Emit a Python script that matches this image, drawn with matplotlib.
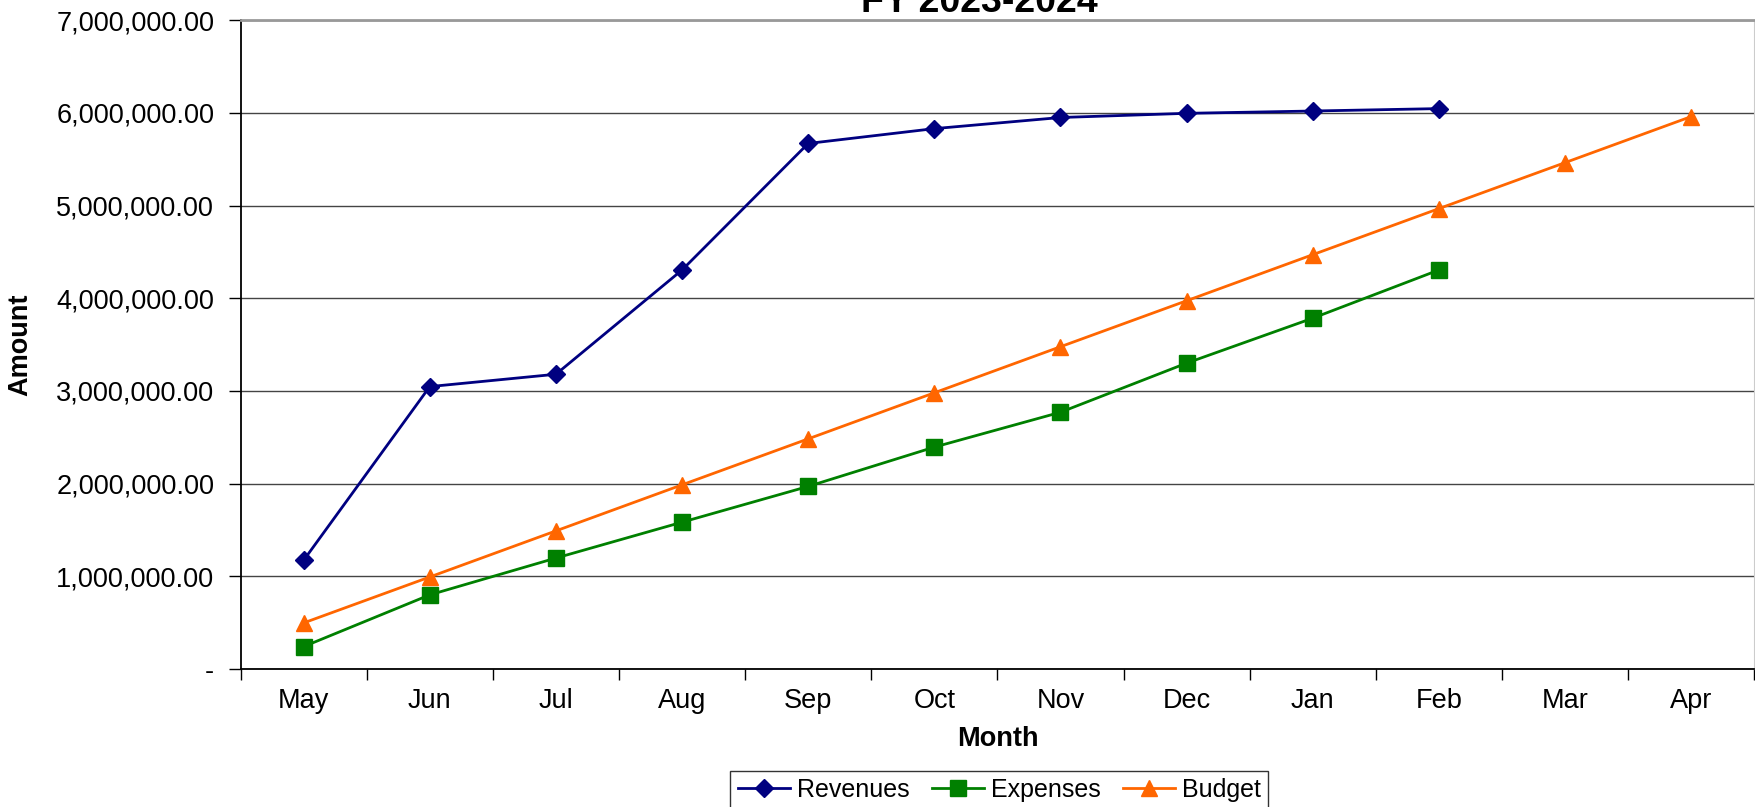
import matplotlib as mpl
mpl.use('Agg')
import matplotlib.pyplot as plt
import numpy as np
from matplotlib.ticker import FuncFormatter, FixedLocator

plt.rcParams['font.family'] = ['Liberation Sans', 'DejaVu Sans']

months = ['May', 'Jun', 'Jul', 'Aug', 'Sep', 'Oct', 'Nov', 'Dec', 'Jan', 'Feb', 'Mar', 'Apr']
revenues = [1173000, 3047000, 3180000, 4305000, 5670000, 5830000, 5950000, 5995000, 6020000, 6046000]
expenses = [242000, 800000, 1197000, 1584000, 1970000, 2394000, 2770000, 3300000, 3785000, 4305000]
budget = [497000, 993000, 1490000, 1987000, 2483000, 2980000, 3477000, 3973000, 4470000, 4967000, 5463000, 5960000]

fig = plt.figure(figsize=(17.56, 8.07), dpi=100)
ax = fig.add_axes([0.137, 0.171, 0.862, 0.804])

x = np.arange(len(months))
ax.plot(x[:len(revenues)], revenues, color='#000080', lw=2, marker='D', ms=9, label='Revenues')
ax.plot(x[:len(expenses)], expenses, color='#008000', lw=2, marker='s', ms=11, label='Expenses')
ax.plot(x[:len(budget)], budget, color='#FF6600', lw=2, marker='^', ms=11, label='Budget')

ax.set_xlim(-0.5, len(months) - 0.5)
ax.set_ylim(0, 7000000)
ax.set_yticks(np.arange(0, 7000001, 1000000))
ax.yaxis.set_major_formatter(FuncFormatter(lambda v, p: '-' if v == 0 else f'{v:,.2f}'))
ax.set_xticks(x)
ax.set_xticklabels(months)
ax.xaxis.set_minor_locator(FixedLocator(np.arange(-0.5, len(months), 1)))
ax.tick_params(axis='x', which='major', length=0, labelsize=19.5, pad=14)
ax.tick_params(axis='x', which='minor', length=8, width=1)
ax.tick_params(axis='y', length=9, width=1, labelsize=19.5, pad=10)

ax.grid(axis='y', color='#444444', lw=1)
ax.set_axisbelow(True)
ax.spines['top'].set_color('#999999')
ax.spines['top'].set_linewidth(2)
ax.spines['right'].set_color('#cccccc')
ax.spines['left'].set_linewidth(1.3)
ax.spines['bottom'].set_linewidth(1.3)

ax.set_xlabel('Month', fontsize=19.5, fontweight='bold', labelpad=8)
ax.set_ylabel('Amount', fontsize=19.5, fontweight='bold')
ax.yaxis.set_label_coords(-0.137, 0.5)
ax.set_title('FY 2023-2024', fontsize=27, fontweight='bold', x=0.488, pad=4)

leg = fig.legend(loc='upper center', bbox_to_anchor=(0.569, 0.045), ncol=3, fontsize=18,
                 frameon=True, fancybox=False, edgecolor='black', handlelength=2.1,
                 columnspacing=0.9, handletextpad=0.25, borderpad=0.3, borderaxespad=0)
leg.get_frame().set_linewidth(1)

fig.savefig('out.png', dpi=100)
